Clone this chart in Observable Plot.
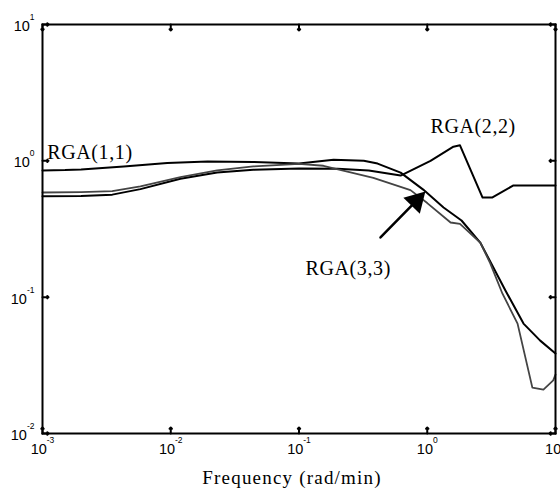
<!DOCTYPE html>
<html><head><meta charset="utf-8">
<script src="https://cdn.jsdelivr.net/npm/d3@7"></script>
<script src="https://cdn.jsdelivr.net/npm/@observablehq/plot@0.6"></script>
<style>body{margin:0;background:#fff}</style>
</head><body><div id="chart"></div>
<script>
// RGA(1,1)
const freq11 = [0.001, 0.0015, 0.002, 0.0043, 0.0094, 0.0194, 0.044, 0.1, 0.186, 0.32, 0.41, 0.62, 0.93, 1.34, 1.85, 2.6, 4.07, 5.63, 7.6, 10];
const rga11  = [0.85, 0.855, 0.865, 0.91, 0.965, 0.99, 0.98, 0.955, 1.02, 1.0, 0.955, 0.82, 0.615, 0.455, 0.365, 0.25, 0.112, 0.064, 0.048, 0.0386];
// RGA(2,2)
const freq22 = [0.001, 0.002, 0.0035, 0.0058, 0.0119, 0.023, 0.044, 0.1, 0.2, 0.35, 0.62, 1.06, 1.6, 1.8, 2.7, 3.2, 4.7, 10];
const rga22  = [0.55, 0.552, 0.565, 0.62, 0.74, 0.82, 0.86, 0.88, 0.875, 0.85, 0.78, 1.0, 1.27, 1.3, 0.538, 0.538, 0.66, 0.66];
// RGA(3,3)
const freq33 = [0.001, 0.002, 0.0035, 0.0058, 0.0119, 0.023, 0.044, 0.1, 0.155, 0.38, 0.74, 1.0, 1.52, 1.8, 2.6, 3.1, 3.86, 5.06, 6.6, 8.05, 9.6, 10];
const rga33  = [0.586, 0.59, 0.6, 0.65, 0.76, 0.85, 0.91, 0.95, 0.92, 0.75, 0.61, 0.49, 0.353, 0.345, 0.25, 0.177, 0.106, 0.064, 0.0217, 0.021, 0.0245, 0.027];

const xTicks = [1e-3, 1e-2, 1e-1, 1, 10];
const yTicks = [1e-2, 1e-1, 1, 10];

// annotation labels (data coordinates of text start / baseline)
const labelText = ["RGA(1,1)", "RGA(2,2)", "RGA(3,3)"];
const labelFreq = [0.00109, 1.06, 0.1125];
const labelRga  = [1.04, 1.587, 0.1466];

// arrow (tail -> tip)
const arrowFreq = [0.432, 0.969];
const arrowRga  = [0.274, 0.596];

const xTitle = "Frequency (rad/min)";

const toRows = (f, r) => f.map((d, i) => ({freq: d, rga: r[i]}));
const s11 = toRows(freq11, rga11);
const s22 = toRows(freq22, rga22);
const s33 = toRows(freq33, rga33);
const labels = labelText.map((t, i) => ({text: t, freq: labelFreq[i], rga: labelRga[i]}));
const arrow = [{x1: arrowFreq[0], y1: arrowRga[0], x2: arrowFreq[1], y2: arrowRga[1]}];

const fmt = d => `10^${Math.round(Math.log10(d))}`;
const serif = "'Liberation Serif', 'Times New Roman', serif";
const sans = "'Liberation Sans', Arial, sans-serif";

const W = 560, H = 489, ML = 42, MR = 5, MT = 24, MB = 56;
const tickLen = 6;

const plot = Plot.plot({
  width: W,
  height: H,
  marginLeft: ML,
  marginRight: MR,
  marginTop: MT,
  marginBottom: MB,
  style: {background: "#fff", color: "#000"},
  x: {type: "log", domain: [1e-3, 10], label: null},
  y: {type: "log", domain: [1e-2, 10], label: null},
  marks: [
    Plot.axisX({ticks: xTicks, tickSize: 0, tickPadding: 10, tickFormat: fmt, fontSize: 14.5, fontFamily: sans, label: null}),
    Plot.axisY({ticks: yTicks, tickSize: 0, tickPadding: 8, tickFormat: fmt, fontSize: 14.5, fontFamily: sans, label: null, dy: 2}),
    // inward tick marks on all four sides (short vectors from the frame edges)
    Plot.vector(xTicks, {x: d => d, frameAnchor: "bottom", length: tickLen, rotate: 0, anchor: "start", stroke: "#000", strokeWidth: 2}),
    Plot.vector(xTicks, {x: d => d, frameAnchor: "top", length: tickLen, rotate: 180, anchor: "start", stroke: "#000", strokeWidth: 2}),
    Plot.vector(yTicks, {y: d => d, frameAnchor: "left", length: tickLen, rotate: 90, anchor: "start", stroke: "#000", strokeWidth: 2}),
    Plot.vector(yTicks, {y: d => d, frameAnchor: "right", length: tickLen, rotate: -90, anchor: "start", stroke: "#000", strokeWidth: 2}),
    Plot.line(s11, {x: "freq", y: "rga", stroke: "#000", strokeWidth: 2}),
    Plot.line(s22, {x: "freq", y: "rga", stroke: "#000", strokeWidth: 2}),
    Plot.line(s33, {x: "freq", y: "rga", stroke: "#444", strokeWidth: 1.8}),
    Plot.arrow(arrow, {x1: "x1", y1: "y1", x2: "x2", y2: "y2", headLength: 0, insetEnd: 10, stroke: "#000", strokeWidth: 2.5}),
    Plot.dot(arrow, {x: "x2", y: "y2", symbol: "triangle", r: 8.5, rotate: 44, fill: "#000", stroke: null, dx: -9.3, dy: 9.5}),
    Plot.text(labels, {x: "freq", y: "rga", text: "text", textAnchor: "start", lineAnchor: "bottom", fontFamily: serif, fontSize: 20, fill: "#000", className: "rga-label"}),
    Plot.text([xTitle], {frameAnchor: "bottom", dy: 50, dx: -7, lineAnchor: "bottom", fontFamily: serif, fontSize: 19, fill: "#000", className: "x-title"}),
    Plot.frame({stroke: "#000", strokeWidth: 2})
  ]
});

d3.select(plot).selectAll('g[aria-label="x-axis tick label"] text, g[aria-label="y-axis tick label"] text').each(function () {
  const t = this.textContent;
  if (!t.includes("^")) return;
  const [base, exp] = t.split("^");
  this.textContent = base;
  d3.select(this).append("tspan").attr("dy", "-11px").attr("font-size", "8.5px").text(exp);
});
d3.select(plot).selectAll(".rga-label text").attr("letter-spacing", "0.6px");
d3.select(plot).selectAll(".x-title text").attr("letter-spacing", "1.2px");

document.getElementById("chart").appendChild(plot);
</script>
</body></html>
